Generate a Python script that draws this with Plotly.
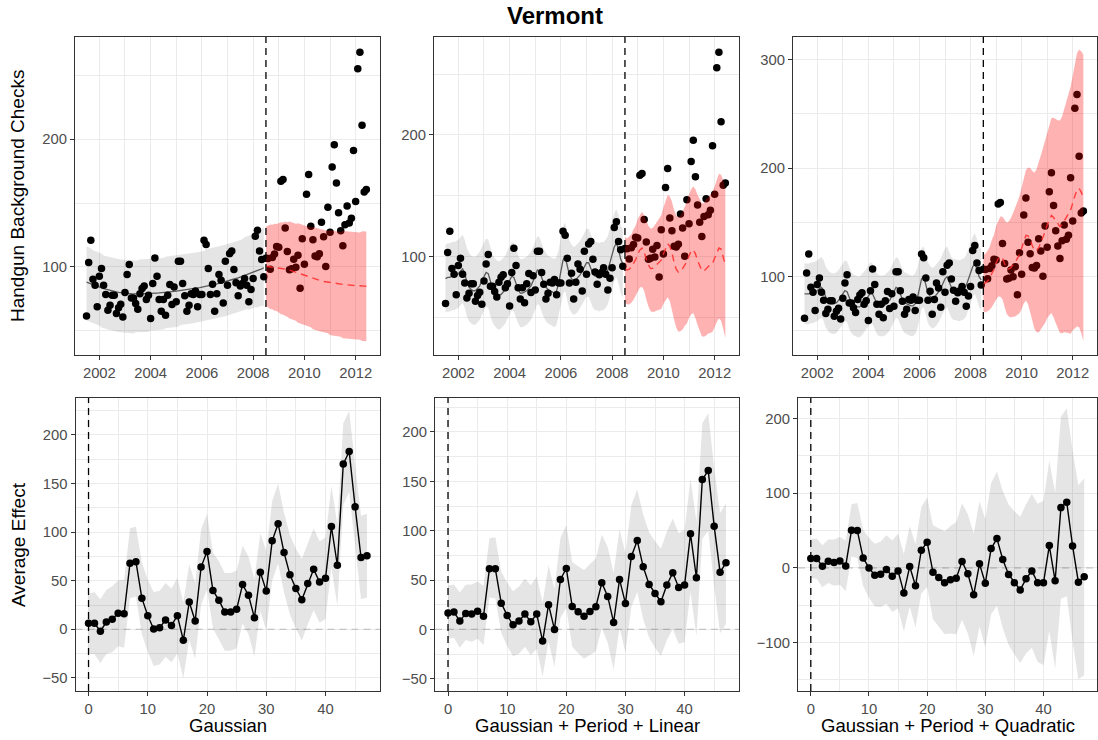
import plotly.graph_objects as go

# ---------------- data ----------------
obs_pre = [61.6, 103.4, 120.9, 90.3, 85.6, 68.7, 92.7, 98.7, 85.6, 78.3, 66.0, 70.0,
           77.8, 77.8, 63.4, 68.0, 70.8, 60.8, 80.0, 94.0, 101.8, 75.7, 75.7, 71.3,
           66.8, 79.0, 83.0, 85.1, 74.4, 77.8, 59.5, 87.0, 107.0, 92.7, 74.4, 65.3,
           74.4, 62.1, 77.8, 86.2, 70.5, 84.3, 72.6, 104.4, 104.4, 87.0, 77.3, 65.3,
           70.0, 79.0, 78.3, 81.2, 68.7, 78.3, 78.3, 120.9, 117.5, 98.7, 78.3, 86.4,
           65.3, 79.0, 94.0, 89.6, 71.8, 104.4, 85.6, 110.4, 112.5, 97.9, 87.5, 77.3,
           85.1, 87.0, 90.9, 85.6, 72.6, 82.2, 90.9, 124.0, 128.7, 112.5, 105.7, 92.2]
obs_post = [106.7, 106.5, 98.1, 107.4, 110.0, 116.0, 115.3, 167.0, 168.4, 130.5, 112.0, 97.8,
            98.6, 106.0, 99.8, 109.2, 83.3, 122.1, 102.1, 156.9, 172.4, 131.8, 121.2, 108.5,
            107.9, 110.2, 135.0, 123.6, 100.3, 146.7, 127.1, 178.3, 195.7, 165.7, 142.4, 128.3,
            116.6, 133.0, 147.6, 134.4, 138.1, 191.1, 151.2, 255.2, 268.0, 210.9, 158.7, 160.6]

# pre-period fits (gray line)
fit_gauss_pre = [88.0, 87.3, 86.6, 86.0, 85.3, 84.7, 84.1, 83.5, 83.0, 82.5, 82.0, 81.5,
                 81.1, 80.7, 80.4, 80.1, 79.8, 79.6, 79.4, 79.2, 79.1, 79.0, 78.9, 78.9,
                 78.9, 78.9, 78.9, 79.0, 79.0, 79.1, 79.2, 79.3, 79.4, 79.5, 79.6, 79.7,
                 79.9, 80.0, 80.2, 80.4, 80.6, 80.8, 81.0, 81.2, 81.4, 81.6, 81.8, 82.1,
                 82.3, 82.6, 82.9, 83.2, 83.5, 83.8, 84.1, 84.4, 84.8, 85.1, 85.5, 85.9,
                 86.3, 86.7, 87.1, 87.5, 88.0, 88.4, 88.9, 89.4, 89.9, 90.4, 90.9, 91.4,
                 92.0, 92.6, 93.2, 93.8, 94.4, 95.0, 95.7, 96.4, 97.1, 97.8, 98.5, 99.3]
fit_lin_pre = [82, 83, 83, 84, 84, 85, 86, 88, 90, 86, 79, 75,
               73, 72, 72, 74, 76, 80, 84, 87, 86, 79, 74, 71,
               69, 68, 69, 71, 73, 77, 81, 84, 83, 78, 73, 70,
               70, 71, 72, 74, 76, 80, 85, 89, 88, 83, 78, 75,
               73, 72, 71, 70, 72, 78, 88, 97, 100, 92, 85, 82,
               80, 81, 83, 85, 88, 92, 95, 95, 91, 86, 84, 84,
               83, 84, 84, 86, 89, 95, 102, 108, 111, 106, 98, 94]
fit_quad_pre = [84, 84, 84, 85, 85, 86, 87, 89, 90, 87, 81, 78,
                76, 75, 75, 76, 78, 81, 84, 87, 86, 80, 76, 74,
                73, 72, 72, 74, 76, 79, 82, 85, 84, 79, 75, 73,
                73, 73, 74, 76, 78, 82, 86, 90, 89, 84, 79, 76,
                75, 74, 73, 73, 75, 80, 89, 98, 100, 92, 85, 82,
                80, 81, 83, 86, 89, 94, 98, 100, 95, 90, 88, 88,
                87, 87, 88, 89, 92, 98, 104, 109, 112, 107, 100, 97]

# pre-period band half widths (upper, lower)
hw_gauss_pre_up = [28, 28, 28, 27, 27, 27, 27, 27, 26, 26, 26, 26,
                   26, 26, 26, 26, 26, 26, 26, 26, 26, 26, 26, 26,
                   26, 27, 27, 27, 27, 27, 27, 27, 27, 27, 27, 27,
                   27, 28, 28, 28, 28, 28, 28, 28, 28, 28, 28, 28,
                   28, 28, 28, 28, 28, 28, 28, 28, 29, 29, 29, 29,
                   29, 29, 29, 29, 29, 29, 29, 29, 29, 29, 29, 29,
                   29, 29, 30, 30, 30, 30, 30, 30, 31, 31, 31, 32]
hw_gauss_pre_lo = [30, 30, 30, 30, 30, 30, 30, 31, 31, 31, 31, 31,
                   31, 31, 31, 31, 31, 31, 31, 31, 31, 31, 31, 30,
                   30, 30, 30, 30, 30, 30, 29, 29, 29, 29, 29, 29,
                   29, 28, 28, 28, 28, 28, 28, 28, 27, 27, 27, 27,
                   27, 27, 27, 27, 27, 27, 27, 27, 27, 27, 27, 27,
                   27, 27, 27, 27, 27, 27, 27, 27, 27, 27, 27, 27,
                   27, 27, 27, 27, 28, 28, 28, 28, 29, 29, 29, 30]
hw_lin_pre = 28
hw_quad_pre = 28

# post-period predictions (dashed red)
pred_gauss = [100.5, 100.3, 100.1, 99.9, 99.7, 99.5, 99.3, 99.0, 98.8, 98.5, 98.0, 97.5,
              96.9, 96.4, 95.8, 95.2, 94.6, 94.1, 93.5, 92.9, 92.4, 91.8, 91.2, 90.7,
              90.1, 89.6, 89.0, 88.6, 88.3, 88.0, 87.6, 87.3, 87.0, 86.7, 86.4, 86.3,
              86.1, 86.0, 85.9, 85.7, 85.6, 85.4, 85.3, 85.2, 85.0, 84.9, 84.9, 84.8]
pred_lin = [90.2, 89.0, 89.7, 91.2, 94.5, 97.5, 102.1, 105.6, 107.0, 103.9, 97.8, 93.1,
            90.2, 90.5, 92.0, 93.7, 95.1, 97.1, 102.1, 106.3, 110.7, 108.5, 103.3, 95.3,
            89.7, 87.3, 87.8, 90.2, 93.2, 96.1, 100.8, 104.4, 105.7, 102.3, 96.9, 91.9,
            88.6, 88.1, 90.3, 91.9, 93.2, 94.3, 98.9, 103.4, 107.1, 106.3, 100.7, 93.1]
pred_quad = [94.2, 94.0, 95.9, 98.5, 102.9, 106.6, 112.6, 116.6, 118.4, 117.1, 112.0, 107.6,
             107.1, 108.2, 111.0, 113.2, 116.8, 120.3, 126.1, 133.2, 138.0, 137.6, 134.1, 128.5,
             123.9, 124.0, 126.5, 131.6, 136.3, 141.3, 147.6, 152.4, 156.4, 154.5, 151.3, 148.3,
             146.1, 147.7, 151.6, 154.4, 158.1, 161.2, 168.6, 174.4, 180.1, 181.4, 177.9, 172.6]

# post-period band half widths
hw_gauss_post = [31, 32, 33, 33, 34, 34, 35, 36, 36, 37, 37, 38,
                 38, 38, 38, 39, 39, 39, 39, 39, 39, 39, 40, 40,
                 40, 40, 40, 40, 40, 40, 41, 41, 41, 41, 41, 41,
                 42, 42, 42, 42, 42, 42, 42, 42, 42, 43, 43, 43]
hw_lin_post_up = [26, 26, 27, 27, 28, 28, 29, 29, 30, 30, 31, 32,
                  33, 33, 34, 35, 36, 37, 38, 39, 40, 41, 42, 43,
                  44, 45, 46, 47, 48, 49, 50, 51, 52, 53, 54, 55,
                  55, 56, 57, 57, 58, 59, 59, 60, 61, 61, 62, 62]
hw_lin_post_lo = [28, 28, 29, 29, 30, 30, 31, 31, 32, 32, 33, 34,
                  35, 36, 37, 38, 39, 40, 41, 42, 44, 45, 46, 47,
                  48, 49, 49, 50, 50, 51, 51, 52, 52, 53, 53, 53,
                  54, 54, 55, 55, 56, 56, 57, 57, 58, 59, 60, 60]
hw_quad_post = [26, 27, 28, 29, 31, 32, 34, 35, 37, 38, 40, 42,
                44, 46, 48, 50, 52, 54, 56, 58, 60, 63, 66, 69,
                72, 75, 78, 80, 82, 84, 86, 88, 90, 92, 94, 96,
                98, 100, 103, 106, 110, 114, 118, 122, 126, 128, 130, 132]

# average effects (bottom row)
eff_gauss = [6.2, 6.2, -2.0, 7.5, 10.3, 16.5, 16.0, 68.0, 69.6, 32.0, 14.0, 0.3,
             1.7, 9.6, 4.0, 14.0, -11.3, 28.0, 8.6, 64.0, 80.0, 40.0, 30.0, 17.8,
             17.8, 20.6, 46.0, 35.0, 12.0, 58.7, 39.5, 91.0, 108.7, 79.0, 56.0, 42.0,
             30.5, 47.0, 61.7, 48.7, 52.5, 105.7, 65.9, 170.0, 183.0, 126.0, 73.8, 75.8]
eff_lin = [16.5, 17.5, 8.4, 16.2, 15.5, 18.5, 13.2, 61.4, 61.4, 26.6, 14.2, 4.7,
           8.4, 15.5, 7.8, 15.5, -11.8, 25.0, 0.0, 50.6, 61.7, 23.3, 17.9, 13.2,
           18.2, 22.9, 47.2, 33.4, 7.1, 50.6, 26.3, 73.9, 90.0, 63.4, 45.5, 36.4,
           28.0, 44.9, 57.3, 42.5, 44.9, 96.8, 52.3, 151.8, 160.9, 104.6, 58.0, 67.5]
eff_quad = [12.5, 12.5, 2.2, 8.9, 7.1, 9.4, 2.7, 50.4, 50.0, 13.4, 0.0, -9.8,
            -8.5, -2.2, -11.2, -4.0, -33.5, 1.8, -24.0, 23.7, 34.4, -5.8, -12.9, -20.0,
            -16.0, -13.8, 8.5, -8.0, -36.0, 5.4, -20.5, 25.9, 39.3, 11.2, -8.9, -20.0,
            -29.5, -14.7, -4.0, -20.0, -20.0, 29.9, -17.4, 80.8, 87.9, 29.5, -19.2, -12.0]

model_names = ["Gaussian", "Gaussian + Period + Linear", "Gaussian + Period + Quadratic"]
year_ticks = [2002, 2004, 2006, 2008, 2010, 2012]
start_year = 2001.5
intervention = 2008.5

# ---------------- build ----------------
W, H = 1098, 740
n_pre, n_post = len(obs_pre), len(obs_post)
t_pre = [start_year + i / 12 for i in range(n_pre)]
t_post = [intervention + i / 12 for i in range(n_post)]
t_all = t_pre + t_post
obs_all = obs_pre + obs_post
steps = list(range(n_post))

def as_list(v, n):
    return v if isinstance(v, list) else [v] * n

models = [
    dict(fit=fit_gauss_pre, pup=hw_gauss_pre_up, plo=hw_gauss_pre_lo,
         pred=pred_gauss, up=hw_gauss_post, lo=hw_gauss_post, eff=eff_gauss),
    dict(fit=fit_lin_pre, pup=hw_lin_pre, plo=hw_lin_pre,
         pred=pred_lin, up=hw_lin_post_up, lo=hw_lin_post_lo, eff=eff_lin),
    dict(fit=fit_quad_pre, pup=hw_quad_pre, plo=hw_quad_pre,
         pred=pred_quad, up=hw_quad_post, lo=hw_quad_post, eff=eff_quad),
]

# pixel boxes of panels (left, right), rows (top, bottom)
top_boxes = [(75, 380), (434, 739), (793, 1097)]
bot_boxes = [(75.5, 380), (435, 739), (798, 1097)]
top_y = (37, 355)
bot_y = (398, 691)
top_xrange = [2001.05, 2012.95]
bot_xrange = [-2.2, 49.2]
top_ranges = [[31, 280], [19.2, 280.5], [27.7, 321]]
bot_ranges = [[-63.5, 238], [-62.4, 234.4], [-165, 227.7]]
top_dt = [100, 100, 100]
bot_dt = [50, 50, 100]

fig = go.Figure()
font_family = "Liberation Sans, Arial, Helvetica, sans-serif"
grid_col = "#EBEBEB"
frame_col = "#333333"
shapes = []

def poly(x, lo, hi):
    return x + x[::-1], hi + lo[::-1]

for k, m in enumerate(models):
    xa_t = "x" if k == 0 else f"x{k+1}"
    ya_t = "y" if k == 0 else f"y{k+1}"
    xa_b = f"x{k+4}"
    ya_b = f"y{k+4}"
    pup = as_list(m["pup"], n_pre)
    plo = as_list(m["plo"], n_pre)
    hi = [f + h for f, h in zip(m["fit"], pup)]
    lo = [f - h for f, h in zip(m["fit"], plo)]
    px, py = poly(t_pre, lo, hi)
    fig.add_trace(go.Scatter(x=px, y=py, fill="toself", fillcolor="rgba(0,0,0,0.1)",
                             line=dict(width=0), mode="lines", hoverinfo="skip",
                             xaxis=xa_t, yaxis=ya_t))
    fig.add_trace(go.Scatter(x=t_pre, y=m["fit"], mode="lines",
                             line=dict(color="#5a5a5a", width=1.3),
                             xaxis=xa_t, yaxis=ya_t))
    fig.add_trace(go.Scatter(x=t_all, y=obs_all, mode="markers",
                             marker=dict(color="black", size=7.5, line=dict(width=0)),
                             xaxis=xa_t, yaxis=ya_t))
    hi = [p + h for p, h in zip(m["pred"], m["up"])]
    lo = [p - h for p, h in zip(m["pred"], m["lo"])]
    px, py = poly(t_post, lo, hi)
    fig.add_trace(go.Scatter(x=px, y=py, fill="toself", fillcolor="rgba(255,0,0,0.3)",
                             line=dict(width=0), mode="lines", hoverinfo="skip",
                             xaxis=xa_t, yaxis=ya_t))
    fig.add_trace(go.Scatter(x=t_post, y=m["pred"], mode="lines",
                             line=dict(color="rgba(255,40,40,0.85)", width=1.4, dash="7px,5px"),
                             xaxis=xa_t, yaxis=ya_t))
    # bottom: zero reference line (under the data)
    fig.add_trace(go.Scatter(x=bot_xrange, y=[0, 0], mode="lines", hoverinfo="skip",
                             line=dict(color="#C4C4C4", width=1.2, dash="7px,5px"),
                             xaxis=xa_b, yaxis=ya_b))
    # bottom: effect
    ehi = [e + h for e, h in zip(m["eff"], m["lo"])]
    elo = [e - h for e, h in zip(m["eff"], m["up"])]
    px, py = poly(steps, elo, ehi)
    fig.add_trace(go.Scatter(x=px, y=py, fill="toself", fillcolor="rgba(0,0,0,0.1)",
                             line=dict(width=0), mode="lines", hoverinfo="skip",
                             xaxis=xa_b, yaxis=ya_b))
    fig.add_trace(go.Scatter(x=steps, y=m["eff"], mode="lines+markers",
                             line=dict(color="black", width=1.4),
                             marker=dict(color="black", size=7.5, line=dict(width=0)),
                             xaxis=xa_b, yaxis=ya_b))

    # vertical intervention lines
    shapes.append(dict(type="line", xref=xa_t, yref=f"{ya_t} domain", x0=intervention,
                       x1=intervention, y0=0, y1=1, layer="above",
                       line=dict(color="black", width=1.3, dash="7px,5px")))
    shapes.append(dict(type="line", xref=xa_b, yref=f"{ya_b} domain", x0=0, x1=0,
                       y0=0, y1=1, layer="above",
                       line=dict(color="black", width=1.3, dash="7px,5px")))

    # axes
    axis_common = dict(showline=True, mirror=True, linecolor=frame_col, linewidth=1,
                       ticks="outside", ticklen=4, tickwidth=1, tickcolor=frame_col,
                       tickfont=dict(size=14.8, color="#4D4D4D", family=font_family),
                       showgrid=True, gridcolor=grid_col, gridwidth=1.1, zeroline=False)
    l, r = top_boxes[k]
    fig.layout[("xaxis" if k == 0 else f"xaxis{k+1}")] = dict(
        axis_common, domain=[l / W, r / W], range=top_xrange,
        tickmode="array", tickvals=year_ticks, anchor=ya_t,
        minor=dict(tickmode="linear", tick0=2001, dtick=1, showgrid=True,
                   gridcolor=grid_col, gridwidth=0.7, ticks=""))
    fig.layout[("yaxis" if k == 0 else f"yaxis{k+1}")] = dict(
        axis_common, domain=[1 - top_y[1] / H, 1 - top_y[0] / H], range=top_ranges[k],
        tickmode="linear", tick0=0, dtick=top_dt[k], anchor=xa_t,
        minor=dict(tickmode="linear", tick0=0, dtick=top_dt[k] / 2, showgrid=True,
                   gridcolor=grid_col, gridwidth=0.7, ticks=""))
    l, r = bot_boxes[k]
    fig.layout[f"xaxis{k+4}"] = dict(
        axis_common, domain=[l / W, r / W], range=bot_xrange,
        tickmode="linear", tick0=0, dtick=10, anchor=ya_b,
        minor=dict(tickmode="linear", tick0=0, dtick=5, showgrid=True,
                   gridcolor=grid_col, gridwidth=0.7, ticks=""))
    fig.layout[f"yaxis{k+4}"] = dict(
        axis_common, domain=[1 - bot_y[1] / H, 1 - bot_y[0] / H], range=bot_ranges[k],
        tickmode="linear", tick0=0, dtick=bot_dt[k], anchor=xa_b,
        minor=dict(tickmode="linear", tick0=0, dtick=bot_dt[k] / 2, showgrid=True,
                   gridcolor=grid_col, gridwidth=0.7, ticks=""))

    cx = (bot_boxes[k][0] + bot_boxes[k][1]) / 2
    fig.add_annotation(text=model_names[k], x=cx / W, y=1 - 725 / H, xref="paper", yref="paper",
                       showarrow=False, xanchor="center", yanchor="middle",
                       font=dict(size=18.5, color="black", family=font_family))

fig.add_annotation(text="<b>Vermont</b>", x=555 / W, y=1 - 15 / H, xref="paper", yref="paper",
                   showarrow=False, xanchor="center", yanchor="middle",
                   font=dict(size=24, color="black", family=font_family))
fig.add_annotation(text="Handgun Background Checks", x=18 / W, y=1 - 196 / H, xref="paper",
                   yref="paper", showarrow=False, textangle=-90, xanchor="center",
                   yanchor="middle", font=dict(size=19, color="black", family=font_family))
fig.add_annotation(text="Average Effect", x=18 / W, y=1 - 545 / H, xref="paper",
                   yref="paper", showarrow=False, textangle=-90, xanchor="center",
                   yanchor="middle", font=dict(size=19, color="black", family=font_family))

fig.update_layout(width=W, height=H, margin=dict(l=0, r=0, t=0, b=0),
                  paper_bgcolor="white", plot_bgcolor="white", showlegend=False,
                  font=dict(family=font_family), shapes=shapes)
fig.write_html("out.html")
